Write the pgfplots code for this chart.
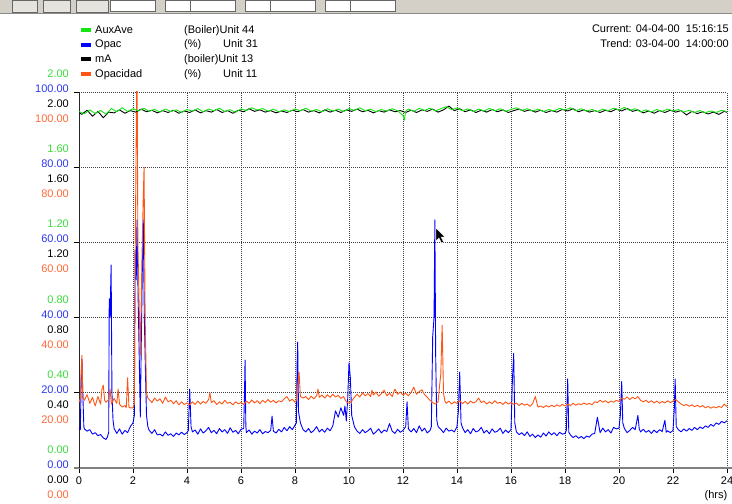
\documentclass[border=0pt]{standalone}
\usepackage{fontspec}
\setmainfont{Liberation Sans}
\usepackage{pgfplots}
\pgfplotsset{compat=1.18}
\definecolor{lgreen}{RGB}{20,230,20}
\definecolor{tgreen}{RGB}{60,220,60}
\definecolor{lblue}{RGB}{0,0,255}
\definecolor{tblue}{RGB}{45,55,240}
\definecolor{lorange}{RGB}{255,85,20}
\definecolor{torange}{RGB}{255,105,55}
\definecolor{tbgray}{RGB}{212,208,200}
\newcommand\stk[4]{\begin{tabular}{@{}r@{}}\color{tgreen}#1\\\color{tblue}#2\\#3\\\color{torange}#4\end{tabular}}
\begin{document}
\begin{tikzpicture}[x=1pt,y=1pt]
\useasboundingbox (0,0) rectangle (732,504);
% toolbar strip
\fill[tbgray] (0,490) rectangle (732,504);
\draw[black!45] (0,490.5) -- (732,490.5);
\foreach \a/\b in {12/37,43/70,76/108} {\draw[black!60,fill=tbgray!60!white] (\a,492) rectangle (\b,504);}
\foreach \a in {110,165,190,245,270,325,350} {\draw[black!60,fill=white] (\a,493) rectangle (\a+45,504);}
\begin{axis}[
  at={(79pt,36pt)}, anchor=south west,
  scale only axis, width=648pt, height=376pt,
  xmin=0, xmax=24, ymin=0, ymax=100,
  axis x line=bottom, axis y line=left,
  axis line style={-},
  x axis line style={draw=black!50, line width=2pt, shorten <=-5pt, shorten >=-6pt},
  y axis line style={draw=black!85, line width=0.8pt},
  xtick={0,2,...,24}, xticklabels={0,2,4,6,8,10,12,14,16,18,20,22,24},
  ytick={0,20,...,100},
  yticklabels={\stk{0.00}{0.00}{0.00}{0.00},\stk{0.40}{20.00}{0.40}{20.00},\stk{0.80}{40.00}{0.80}{40.00},\stk{1.20}{60.00}{1.20}{60.00},\stk{1.60}{80.00}{1.60}{80.00},\stk{2.00}{100.00}{2.00}{100.00}},
  tick align=outside, major tick length=5pt,
  tick style={black, line width=0.8pt},
  grid=major, major grid style={black!75, line width=0.7pt, dash pattern=on 1pt off 1pt},
  tick label style={font=\fontsize{11}{15}\selectfont},
  yticklabel style={yshift=-5pt, xshift=-4pt, inner sep=1pt},
]
\addplot[lblue, line width=0.9pt, line join=round] coordinates {
(0.0,10.6)(0.05,10.2)(0.08,23)(0.11,29)(0.14,20)(0.18,11)(0.2,10.4)(0.3,9.8)(0.4,10.2)(0.5,9.0)(0.6,9.4)(0.7,8.6)(0.8,8.9)(0.9,8.0)(1.0,7.6)(1.05,8.2)(1.1,9.5)(1.12,45)(1.15,40)(1.19,54)(1.22,20)(1.26,12.8)(1.3,10.5)(1.4,9.2)(1.5,10.4)(1.6,9.0)(1.7,10.0)(1.8,9.4)(1.9,11.0)(2.0,12.0)
(2.05,14)(2.08,58)(2.12,50)(2.15,66)(2.19,45)(2.23,30)(2.27,13.5)(2.31,35)(2.35,55)(2.38,66)(2.42,40)(2.46,26)(2.5,14)(2.55,11)
(2.6,10.0)(2.7,9.2)(2.8,10.2)(2.9,8.8)(3.0,9.0)(3.1,8.5)(3.2,9.6)(3.3,8.7)(3.4,9.1)(3.5,8.4)(3.6,9.3)(3.7,8.8)(3.8,9.5)(3.9,8.9)(4.0,9.4)(4.05,10)(4.1,21)(4.15,11)(4.2,9.6)(4.3,10.1)(4.4,9.0)(4.5,10.4)(4.6,9.3)(4.7,9.9)(4.8,10.8)(4.9,9.4)
(5.0,10.0)(5.1,9.1)(5.2,10.5)(5.3,9.6)(5.4,10.2)(5.5,9.2)(5.6,10.7)(5.7,9.5)(5.8,10.0)(5.9,9.1)(6.0,10.3)(6.1,10.5)(6.13,20)(6.15,28.7)(6.18,11)(6.2,9.4)(6.3,10.1)(6.4,9.0)(6.5,9.8)(6.6,9.3)(6.7,10.2)(6.8,9.1)(6.9,9.7)
(7.0,9.4)(7.1,10.0)(7.15,13.8)(7.2,9.8)(7.3,9.3)(7.4,10.3)(7.5,9.6)(7.6,10.8)(7.7,9.9)(7.8,11.0)(7.9,10.2)(8.0,11.4)(8.05,12)(8.08,28)(8.1,33.5)(8.13,15)(8.2,12)(8.3,10.2)(8.4,9.6)(8.5,10.5)(8.6,9.4)(8.7,10.0)(8.8,11.0)(8.9,9.6)
(9.0,10.3)(9.1,9.5)(9.2,10.6)(9.3,9.9)(9.4,11.2)(9.5,15.2)(9.6,13.5)(9.7,16.0)(9.8,14.0)(9.85,16.5)(9.9,12.5)(9.95,18)(10.0,28)(10.05,24)(10.1,14)(10.2,11.0)(10.3,9.8)(10.4,9.2)(10.5,10.2)(10.6,9.4)(10.7,9.9)(10.8,10.6)(10.9,9.0)
(11.0,9.6)(11.1,10.4)(11.2,9.3)(11.3,10.1)(11.4,9.7)(11.5,11.8)(11.6,9.8)(11.7,9.2)(11.8,10.3)(11.9,9.5)(12.0,10.0)(12.1,11.0)(12.15,17.6)(12.2,10.4)(12.3,9.6)(12.4,10.5)(12.5,9.4)(12.6,11.2)(12.7,9.8)(12.8,10.6)(12.9,9.3)
(13.0,10.0)(13.05,11)(13.1,35)(13.15,40)(13.18,66)(13.21,30)(13.25,12.8)(13.3,11)(13.4,10.3)(13.5,9.4)(13.6,10.6)(13.7,9.8)(13.8,10.1)(13.9,9.6)(14.0,11)(14.05,15)(14.1,25.5)(14.15,12)(14.2,10.8)(14.3,9.4)(14.4,10.2)(14.5,9.1)(14.6,10.5)(14.7,9.6)(14.8,9.9)(14.9,10.8)
(15.0,9.3)(15.1,10.0)(15.2,9.1)(15.3,10.4)(15.4,9.5)(15.5,9.8)(15.6,10.6)(15.7,9.2)(15.8,10.1)(15.9,9.4)(16.0,10.2)(16.05,23)(16.1,30.5)(16.14,12)(16.2,9.6)(16.3,8.9)(16.4,9.4)(16.5,8.6)(16.6,9.6)(16.7,8.4)(16.8,9.0)(16.9,8.1)
(17.0,8.8)(17.1,8.2)(17.2,9.3)(17.3,8.5)(17.4,9.6)(17.5,8.8)(17.6,9.4)(17.7,8.6)(17.8,9.5)(17.9,9.0)(18.0,9.2)(18.05,10)(18.1,23.7)(18.14,9.5)(18.2,8.8)(18.3,8.1)(18.4,8.6)(18.5,7.9)(18.6,8.4)(18.7,7.8)(18.8,8.5)(18.9,8.2)
(19.0,9.0)(19.1,9.2)(19.2,13.5)(19.3,9.4)(19.4,10.6)(19.5,9.6)(19.6,10.2)(19.7,9.3)(19.8,10.8)(19.9,10.4)(20.0,10.6)(20.05,14)(20.1,23)(20.14,12)(20.2,10.5)(20.3,9.4)(20.4,10.0)(20.5,10.8)(20.6,10.2)(20.7,14)(20.75,10.4)(20.8,9.6)(20.9,10.3)
(21.0,9.5)(21.1,10.0)(21.2,9.2)(21.3,10.1)(21.4,9.4)(21.5,10.2)(21.6,9.7)(21.7,12.7)(21.75,9.5)(21.8,9.9)(21.9,9.4)(22.0,10.0)(22.05,16)(22.08,23.7)(22.12,11)(22.2,10.2)(22.3,9.6)(22.4,10.4)(22.5,9.8)(22.6,10.5)(22.7,10.0)(22.8,10.8)(22.9,10.2)
(23.0,10.9)(23.1,10.5)(23.2,11.2)(23.3,10.8)(23.4,11.6)(23.5,11.1)(23.6,12.0)(23.7,11.6)(23.8,12.4)(23.9,12.0)(24.0,12.6)
};
\addplot[lorange, line width=0.9pt, line join=round] coordinates {
(0.0,17.5)(0.05,18.5)(0.08,26)(0.11,30)(0.14,19)(0.2,18.0)(0.3,19.5)(0.4,17.2)(0.5,18.8)(0.6,16.5)(0.7,19.0)(0.8,17.0)(0.85,21)(0.9,22)(0.95,18)(1.0,17.5)(1.1,18.2)(1.15,21)(1.2,17.0)(1.3,18.5)(1.4,17.2)(1.45,21)(1.5,17.0)(1.6,16.2)(1.7,16.6)(1.75,16.0)(1.8,24)(1.85,16.2)(1.9,16.0)(2.0,16.0)
(2.05,17)(2.08,56)(2.12,89)(2.15,110)(2.18,60)(2.22,46)(2.27,30)(2.33,55)(2.38,72)(2.41,80)(2.45,40)(2.5,20)(2.55,18.6)
(2.6,18.2)(2.7,17.4)(2.8,18.6)(2.9,17.8)(3.0,18.4)(3.1,17.2)(3.2,18.9)(3.3,17.6)(3.4,18.0)(3.5,17.1)(3.6,17.9)(3.7,16.8)(3.8,17.6)(3.9,16.9)(4.0,17.3)(4.1,16.8)(4.2,17.6)(4.3,16.9)(4.4,17.8)(4.5,17.0)(4.6,17.7)(4.7,17.2)(4.8,18.2)(4.85,20)(4.9,17.4)
(5.0,17.9)(5.1,16.9)(5.2,17.6)(5.3,17.0)(5.4,18.0)(5.5,17.2)(5.6,17.5)(5.7,16.8)(5.8,17.6)(5.9,17.1)(6.0,17.4)(6.1,16.9)(6.2,17.8)(6.3,17.2)(6.4,18.1)(6.5,17.3)(6.6,17.9)(6.7,17.1)(6.8,18.0)(6.9,17.4)
(7.0,18.2)(7.1,17.5)(7.2,18.0)(7.3,17.3)(7.4,17.9)(7.5,17.6)(7.6,18.4)(7.7,19.0)(7.8,17.8)(7.9,18.3)(8.0,17.5)(8.05,18)(8.1,22)(8.15,25.5)(8.2,19)(8.3,18.6)(8.4,19.0)(8.5,18.2)(8.6,19.1)(8.7,18.4)(8.8,19.2)(8.85,21)(8.9,18.8)
(9.0,19.4)(9.1,18.6)(9.2,19.5)(9.3,18.8)(9.4,19.6)(9.5,18.9)(9.6,19.3)(9.7,18.5)(9.8,19.0)(9.9,17.6)(10.0,17.2)(10.1,17.8)(10.2,18.8)(10.3,19.6)(10.4,18.9)(10.5,20.0)(10.6,19.2)(10.7,19.8)(10.8,19.0)(10.85,20.7)(10.9,19.4)
(11.0,20.2)(11.1,19.1)(11.2,19.8)(11.3,20.7)(11.4,19.2)(11.5,19.9)(11.6,19.0)(11.7,21.0)(11.8,19.6)(11.9,20.2)(12.0,19.4)(12.1,19.9)(12.2,19.2)(12.3,20.1)(12.4,21.5)(12.5,19.6)(12.6,20.3)(12.7,20.8)(12.8,19.5)(12.9,18.8)
(13.0,18.0)(13.1,17.4)(13.2,17.0)(13.3,17.6)(13.35,21.5)(13.4,25)(13.45,38)(13.5,20)(13.55,17.8)(13.6,17.2)(13.7,17.8)(13.8,17.0)(13.9,17.6)(14.0,17.2)(14.1,17.9)(14.2,17.1)(14.3,17.7)(14.4,17.0)(14.5,17.8)(14.6,17.3)(14.7,17.6)(14.8,18.6)(14.9,17.4)
(15.0,17.8)(15.1,17.0)(15.2,17.6)(15.3,17.1)(15.4,17.9)(15.5,17.2)(15.6,17.5)(15.7,16.9)(15.8,17.6)(15.9,17.0)(16.0,17.4)(16.1,16.9)(16.2,17.3)(16.3,16.6)(16.4,17.2)(16.5,16.7)(16.6,17.0)(16.7,16.4)(16.8,17.1)(16.9,19)
(17.0,16.2)(17.1,16.5)(17.2,16.1)(17.3,16.6)(17.4,16.2)(17.5,16.7)(17.6,16.3)(17.7,16.8)(17.8,16.4)(17.9,16.9)(18.0,16.5)(18.1,17.0)(18.2,16.6)(18.3,17.2)(18.4,16.7)(18.5,17.1)(18.6,16.8)(18.7,17.3)(18.8,16.9)(18.9,17.2)
(19.0,16.8)(19.1,17.6)(19.2,17.4)(19.3,18.0)(19.4,17.5)(19.5,17.9)(19.6,17.3)(19.7,17.8)(19.8,17.5)(19.9,18.0)(20.0,17.7)(20.1,18.6)(20.2,18.3)(20.3,18.9)(20.4,18.2)(20.5,18.8)(20.6,18.4)(20.7,19.0)(20.8,18.0)(20.9,17.6)
(21.0,18.0)(21.1,17.4)(21.2,17.9)(21.3,17.3)(21.4,17.8)(21.5,17.2)(21.6,17.7)(21.7,17.3)(21.8,17.9)(21.9,17.4)(22.0,17.8)(22.1,18.2)(22.2,17.6)(22.3,17.0)(22.4,16.6)(22.5,16.9)(22.6,16.4)(22.7,16.8)(22.8,16.3)(22.9,16.7)
(23.0,16.2)(23.1,16.6)(23.2,16.0)(23.3,16.4)(23.4,15.9)(23.5,16.3)(23.6,16.0)(23.7,16.4)(23.8,16.1)(23.9,17.0)(24.0,16.3)
};
\end{axis}
\begin{axis}[
  at={(79pt,36pt)}, anchor=south west,
  scale only axis, width=648pt, height=376pt,
  xmin=0, xmax=24, ymin=0, ymax=2,
  hide axis,
  legend cell align=left,
  legend image code/.code={\draw[#1, line width=4pt] (0pt,0pt) -- (10pt,0pt);},
  legend style={at={(0,1)}, anchor=south west, draw=none, fill=none, inner sep=0pt,
    row sep=1.2pt, font=\fontsize{11}{13}\selectfont, yshift=11pt,
    /tikz/every even column/.append style={column sep=1pt}},
]
\addlegendimage{draw=lgreen}
\addlegendentry{\makebox[89pt][l]{AuxAve}(Boiler)Unit 44}
\addlegendimage{draw=lblue}
\addlegendentry{\makebox[89pt][l]{Opac}\makebox[39pt][l]{(\%)}Unit 31}
\addlegendimage{draw=black}
\addlegendentry{\makebox[89pt][l]{mA}(boiler)Unit 13}
\addlegendimage{draw=lorange}
\addlegendentry{\makebox[89pt][l]{Opacidad}\makebox[39pt][l]{(\%)}Unit 11}
\addplot[black, line width=0.9pt, line join=round, forget plot] coordinates {
(0.0,1.890)(0.1,1.881)(0.3,1.903)(0.5,1.871)(0.7,1.897)(0.9,1.863)(1.1,1.893)(1.3,1.889)(1.5,1.905)(1.7,1.887)(1.9,1.901)(2.1,1.893)(2.3,1.909)(2.5,1.895)(2.7,1.903)(2.9,1.889)(3.1,1.901)(3.3,1.891)(3.5,1.903)(3.7,1.887)(3.9,1.899)
(4.1,1.891)(4.3,1.905)(4.5,1.889)(4.7,1.901)(4.9,1.893)(5.1,1.907)(5.3,1.891)(5.5,1.901)(5.7,1.887)(5.9,1.903)(6.1,1.895)(6.3,1.911)(6.5,1.897)(6.7,1.905)(6.9,1.893)(7.1,1.901)(7.3,1.889)(7.5,1.899)(7.7,1.891)(7.9,1.903)
(8.1,1.895)(8.3,1.907)(8.5,1.893)(8.7,1.901)(8.9,1.889)(9.1,1.905)(9.3,1.893)(9.5,1.903)(9.7,1.891)(9.9,1.905)(10.1,1.897)(10.3,1.909)(10.5,1.895)(10.7,1.903)(10.9,1.889)(11.1,1.901)(11.3,1.893)(11.5,1.905)(11.7,1.895)(11.9,1.901)
(12.1,1.891)(12.3,1.903)(12.5,1.891)(12.7,1.905)(12.9,1.897)(13.1,1.909)(13.3,1.893)(13.5,1.905)(13.7,1.925)(13.9,1.901)(14.1,1.911)(14.3,1.895)(14.5,1.905)(14.7,1.891)(14.9,1.903)(15.1,1.893)(15.3,1.907)(15.5,1.895)(15.7,1.905)(15.9,1.891)
(16.1,1.901)(16.3,1.909)(16.5,1.897)(16.7,1.905)(16.9,1.893)(17.1,1.903)(17.3,1.891)(17.5,1.901)(17.7,1.893)(17.9,1.907)(18.1,1.899)(18.3,1.911)(18.5,1.895)(18.7,1.905)(18.9,1.893)(19.1,1.901)(19.3,1.891)(19.5,1.903)(19.7,1.895)(19.9,1.909)
(20.1,1.899)(20.3,1.913)(20.5,1.897)(20.7,1.905)(20.9,1.889)(21.1,1.899)(21.3,1.887)(21.5,1.901)(21.7,1.891)(21.9,1.903)(22.1,1.893)(22.3,1.901)(22.5,1.878)(22.7,1.897)(22.9,1.885)(23.1,1.895)(23.3,1.883)(23.5,1.893)(23.7,1.881)(23.9,1.897)(24.0,1.892)
};
\addplot[lgreen, line width=0.9pt, line join=round, forget plot] coordinates {
(0.0,1.896)(0.2,1.884)(0.4,1.905)(0.6,1.886)(0.8,1.902)(1.0,1.882)(1.2,1.912)(1.4,1.895)(1.6,1.916)(1.8,1.897)(2.0,1.911)(2.2,1.899)(2.4,1.914)(2.6,1.897)(2.8,1.908)(3.0,1.893)(3.2,1.910)(3.4,1.896)(3.6,1.905)(3.8,1.891)
(4.0,1.907)(4.2,1.898)(4.4,1.912)(4.6,1.895)(4.8,1.909)(5.0,1.900)(5.2,1.914)(5.4,1.896)(5.6,1.906)(5.8,1.892)(6.0,1.910)(6.2,1.902)(6.4,1.916)(6.6,1.904)(6.8,1.912)(7.0,1.898)(7.2,1.909)(7.4,1.894)(7.6,1.905)(7.8,1.896)
(8.0,1.910)(8.2,1.900)(8.4,1.914)(8.6,1.898)(8.8,1.907)(9.0,1.894)(9.2,1.911)(9.4,1.898)(9.6,1.909)(9.8,1.896)(10.0,1.912)(10.2,1.902)(10.4,1.916)(10.6,1.900)(10.8,1.909)(11.0,1.895)(11.2,1.907)(11.4,1.898)(11.6,1.911)(11.8,1.900)
(12.0,1.875)(12.05,1.850)(12.1,1.898)(12.2,1.909)(12.4,1.897)(12.6,1.913)(12.8,1.902)(13.0,1.914)(13.2,1.899)(13.4,1.911)(13.6,1.922)(13.8,1.906)(14.0,1.915)(14.2,1.900)(14.4,1.910)(14.6,1.896)(14.8,1.909)(15.0,1.899)(15.2,1.913)(15.4,1.900)(15.6,1.911)(15.8,1.897)
(16.0,1.907)(16.2,1.916)(16.4,1.902)(16.6,1.911)(16.8,1.898)(17.0,1.909)(17.2,1.896)(17.4,1.907)(17.6,1.899)(17.8,1.913)(18.0,1.904)(18.2,1.916)(18.4,1.900)(18.6,1.911)(18.8,1.898)(19.0,1.907)(19.2,1.896)(19.4,1.909)(19.6,1.900)(19.8,1.914)
(20.0,1.904)(20.2,1.918)(20.4,1.902)(20.6,1.911)(20.8,1.894)(21.0,1.905)(21.2,1.893)(21.4,1.907)(21.6,1.897)(21.8,1.909)(22.0,1.899)(22.2,1.907)(22.4,1.893)(22.6,1.903)(22.8,1.891)(23.0,1.901)(23.2,1.890)(23.4,1.899)(23.6,1.891)(23.8,1.903)(24.0,1.895)
};
\end{axis}
% current / trend text
\node[anchor=north east, align=right, inner sep=0pt, font=\fontsize{11}{15}\selectfont] at (729,479) {Current: 04-04-00~~15:16:15\\Trend: 03-04-00~~14:00:00};
\node[inner sep=0pt, font=\fontsize{11}{13}\selectfont] at (716,8) {(hrs)};
% mouse cursor
\fill[black, draw=white, line width=0.4pt] (436,276) -- (436,263) -- (439,266) -- (441.5,261) -- (443.5,262) -- (441,267) -- (445,267) -- cycle;
\end{tikzpicture}
\end{document}
